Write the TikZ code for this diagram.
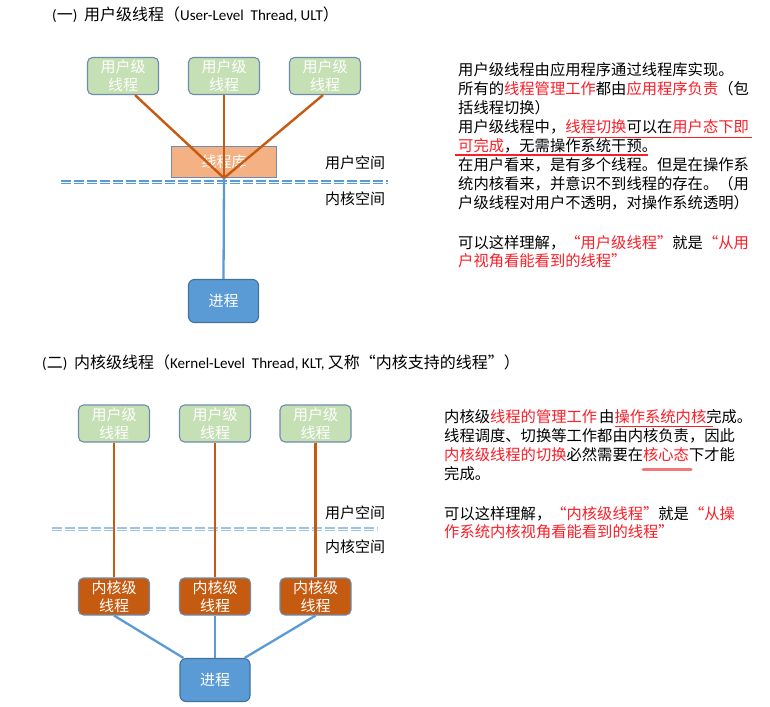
\documentclass[tikz,border=0pt]{standalone}
\usepackage{fontspec}
\setmainfont{Noto Sans CJK SC}
\newfontfamily\latf[Scale=0.94]{Carlito}
\definecolor{ured}{RGB}{250,30,40}
\definecolor{ulgreen}{RGB}{197,224,180}
\definecolor{ubord}{RGB}{110,140,175}
\definecolor{uorange}{RGB}{197,90,17}
\definecolor{usalmon}{RGB}{244,177,131}
\definecolor{ublue}{RGB}{91,155,213}
\definecolor{ubluedk}{RGB}{65,113,156}
\definecolor{ulblue}{RGB}{157,195,230}
\definecolor{upink}{RGB}{240,120,120}
\newcommand\rd[1]{\textcolor{ured}{#1}}
\begin{document}
\begin{tikzpicture}[x=1pt,y=-1pt,
 txt/.style={inner sep=0pt,anchor=base west,font=\fontsize{15.3}{19}\selectfont},
 head/.style={inner sep=0pt,anchor=base west,font=\fontsize{16}{18}\selectfont},
 ubox/.style={draw=ubord,fill=ulgreen,line width=1.1pt,rounded corners=5pt,minimum width=71pt,minimum height=37pt,text=white,align=center,font=\fontsize{15}{18}\selectfont,inner sep=0pt},
 kbox/.style={ubox,fill=uorange},
 pbox/.style={draw=ubluedk,fill=ublue,line width=1.1pt,rounded corners=6pt,minimum width=70pt,minimum height=43pt,text=white,font=\fontsize{15}{18}\selectfont,inner sep=0pt},
 libbox/.style={draw=ubord,fill=usalmon,line width=1.1pt,minimum width=105pt,minimum height=31pt,text=white,font=\fontsize{15}{18}\selectfont,inner sep=0pt},
 oline/.style={draw=uorange,line width=2.4pt},
 bline/.style={draw=ublue,line width=2.3pt},
 sepline/.style={line width=1.2pt,dash pattern=on 9.5pt off 3.5pt},
 spc/.style={inner sep=0pt,font=\fontsize{15}{18}\selectfont},
 uline/.style={draw=ured,line width=1.6pt},
]
\fill[white] (0,0) rectangle (770,706);
\useasboundingbox (0,0) rectangle (770,706);

% headings
\node[head] (h1) at (52,20.5) {{\latf (}一{\latf )\ \ }用户级线程（{\latf User-Level\ \ Thread, ULT}）};
\node[head] (h2) at (42,368.5) {{\latf (}二{\latf )\ \ }内核级线程（{\latf Kernel-Level\ \ Thread, KLT, }又称“内核支持的线程”）};

% ---------- diagram 1 ----------
\node[ubox] (u1) at (123,76) {用户级\\线程};
\node[ubox] (u2) at (224,76) {用户级\\线程};
\node[ubox] (u3) at (325,76) {用户级\\线程};
\node[libbox] (lib) at (224,162) {线程库};
\node[pbox] (p1) at (223.5,301) {进程};
\draw[oline] ([xshift=12pt]u1.south) -- (lib.south);
\draw[oline] (u2.south) -- (lib.south);
\draw[oline] ([xshift=-2pt]u3.south) -- (lib.south);
\draw[sepline,draw=ublue] (61,181) -- (388,181);
\draw[sepline,draw=ublue] (61,183.6) -- (388,183.6);
\draw[bline] (lib.south) -- (p1.north);
\node[spc] (us1) at (355,163) {用户空间};
\node[spc] (ks1) at (355,199) {内核空间};

% ---------- diagram 2 ----------
\node[ubox] (v1) at (114,423.5) {用户级\\线程};
\node[ubox] (v2) at (215,423.5) {用户级\\线程};
\node[ubox] (v3) at (315.5,423.5) {用户级\\线程};
\node[kbox] (k1) at (114,596.5) {内核级\\线程};
\node[kbox] (k2) at (215,596.5) {内核级\\线程};
\node[kbox] (k3) at (315.5,596.5) {内核级\\线程};
\node[pbox] (p2) at (215,680) {进程};
\draw[sepline,draw=ulblue] (52,528) -- (378,528);
\draw[sepline,draw=ulblue] (52,530.6) -- (378,530.6);
\draw[oline] (v1.south) -- (k1.north);
\draw[oline] (v2.south) -- (k2.north);
\draw[oline] (v3.south) -- (k3.north);
\draw[bline] (k1.south) -- ([xshift=4pt]p2.north west);
\draw[bline] (k2.south) -- (p2.north);
\draw[bline] (k3.south) -- ([xshift=-6pt]p2.north east);
\node[spc] (us2) at (355,513) {用户空间};
\node[spc] (ks2) at (355,547) {内核空间};

% ---------- text block 1 ----------
\node[txt] (a1) at (458,75.6) {用户级线程由应用程序通过线程库实现。};
\node[txt] (a2) at (458,94.6) {所有的\rd{线程管理工作}都由\rd{应用程序负责}（包};
\node[txt] (a3) at (458,113.6) {括线程切换）};
\node[txt] (a4) at (458,132.6) {用户级线程中，\rd{线程切换}可以在\rd{用户态下即}};
\node[txt] (a5) at (458,151.6) {\rd{可完成}，无需操作系统干预。};
\node[txt] (a6) at (458,170.6) {在用户看来，是有多个线程。但是在操作系};
\node[txt] (a7) at (458,189.6) {统内核看来，并意识不到线程的存在。（用};
\node[txt] (a8) at (458,208.6) {户级线程对用户不透明，对操作系统透明）};
\node[txt] (a9) at (458,248.6) {可以这样理解，\rd{“用户级线程”}就是\rd{“从用}};
\node[txt] (a10) at (458,266.6) {\rd{户视角看能看到的线程”}};
\draw[uline] (567,137.5) -- (752,137.5);
\draw[uline] (455,155) -- (648,155);

% ---------- text block 2 ----------
\node[txt] (b1) at (444,422.6) {内核级\rd{线程的管理工作}\hspace{2pt}由\rd{操作系统内核}完成。};
\node[txt] (b2) at (444,441.4) {线程调度、切换等工作都由内核负责，因此};
\node[txt] (b3) at (444,460.2) {\rd{内核级线程的切换}必然需要在\rd{核心态}下才能};
\node[txt] (b4) at (444,479) {完成。};
\node[txt] (b5) at (444,519.6) {可以这样理解，\rd{“内核级线程”}就是\rd{“从操}};
\node[txt] (b6) at (444,537.6) {\rd{作系统内核视角看能看到的线程”}};
\draw[uline] (615,426.5) -- (713,426.5);
\draw[draw=upink,line width=3pt,line cap=round] (643,469) -- (691,469);
\end{tikzpicture}
\end{document}
